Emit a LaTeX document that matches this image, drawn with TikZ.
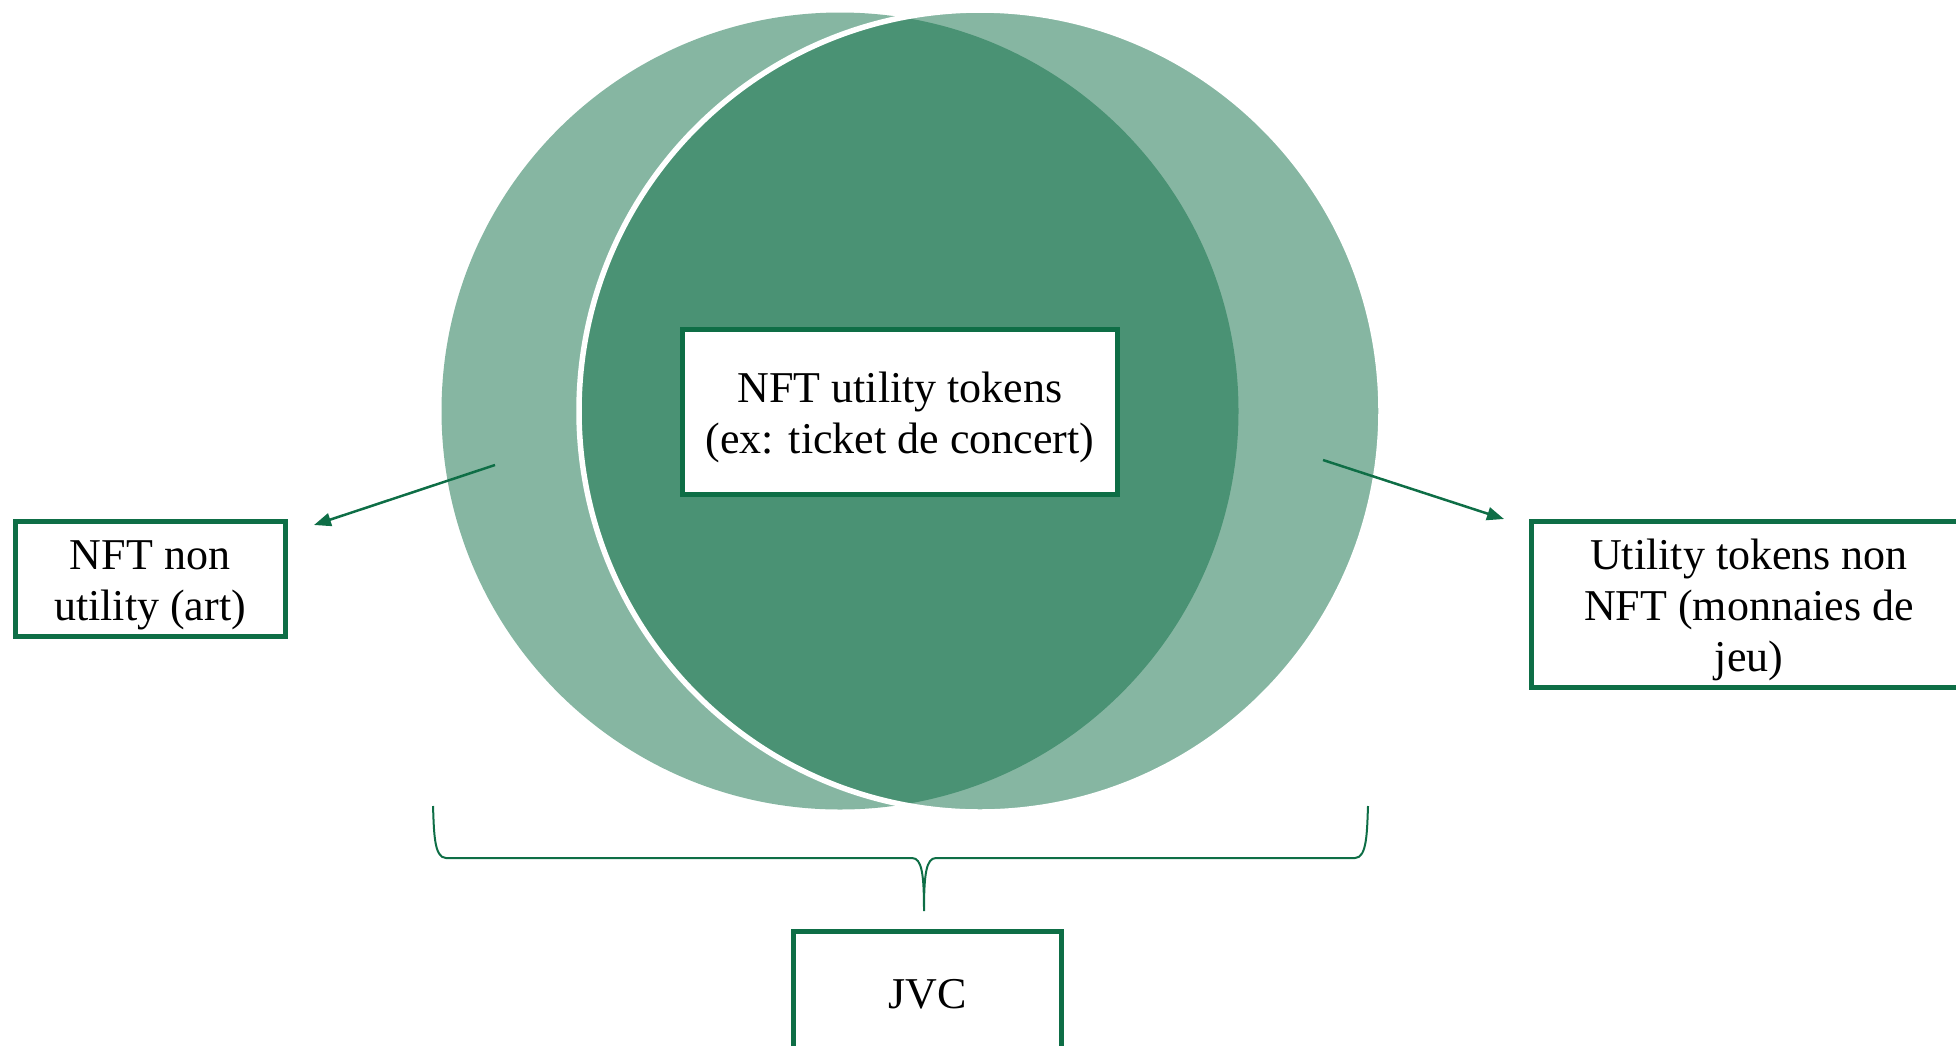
\documentclass[tikz,border=0pt]{standalone}
\usepackage{fontspec}
\setmainfont{Liberation Serif}
\usetikzlibrary{arrows.meta}
\definecolor{vert}{RGB}{14,110,70}
% extra room above the first text line of a box
\newcommand{\topgap}{\rule{0pt}{42pt}}
\begin{document}
\begin{tikzpicture}[x=1pt,y=-1pt,
  label box/.style={draw=vert, line width=5pt, fill=white, align=center,
    inner sep=0pt, text=black, font=\fontsize{44}{51}\selectfont},
  pointer/.style={draw=vert, line width=2.5pt, -{Triangle[length=17pt,width=13pt]}},
  bracket/.style={draw=vert, line width=2pt}]
\useasboundingbox (0,0) rectangle (1956,1045);
\clip (0,0) rectangle (1956,1045);

% two overlapping sets
\fill[vert, opacity=0.5] (840,411) circle[radius=398.5pt];
\draw[fill=vert, fill opacity=0.5, draw=white, line width=5.5pt] (980,411) circle[radius=401pt];

% pointers out of the crescents
\coordinate (pL) at (495,465);
\coordinate (tL) at (314,525);
\coordinate (pR) at (1323,460);
\coordinate (tR) at (1504,519);
\draw[pointer] (pL) -- (tL);
\draw[pointer] (pR) -- (tR);

% brace under both sets
\coordinate (bL) at (433,806);
\coordinate (bR) at (1368,806);
\coordinate (bTip) at (924,911);
\draw[bracket] (bL) .. controls (434,832) and (434,858) .. (446,858)
  -- (912,858) .. controls (922,858) and (924,875) .. (bTip)
  .. controls (924,875) and (926,858) .. (936,858)
  -- (1355,858) .. controls (1367,858) and (1367,832) .. (bR);

% labels
\node[label box, minimum width=270pt, minimum height=115pt] (art) at (150,579)
  {\topgap NFT non\\utility (art)};
\node[label box, minimum width=435pt, minimum height=165pt] (ticket) at (900,412)
  {\topgap NFT utility tokens\\(ex: ticket de concert)};
\node[label box, minimum width=435pt, minimum height=166pt] (jeu) at (1749,604.5)
  {\topgap Utility tokens non\\NFT (monnaies de\\jeu)};
\node[label box, minimum width=268pt, minimum height=125pt] (jvc) at (927.5,994)
  {JVC};
\end{tikzpicture}
\end{document}
